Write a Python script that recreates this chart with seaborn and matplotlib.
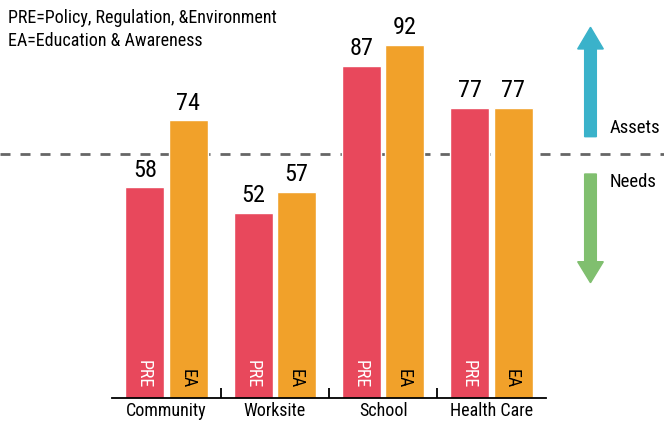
import matplotlib
matplotlib.use("Agg")
import matplotlib.pyplot as plt
import matplotlib.patches as mpatches
import numpy as np
import pandas as pd
import seaborn as sns

# data
settings = ["Community", "Worksite", "School", "Health Care"]
pre_scores = [58, 52, 87, 77]
ea_scores = [74, 57, 92, 77]
bar_types = ["PRE", "EA"]
threshold = 66

red = "#E8485C"
orange = "#F1A12A"
teal = "#3AB2CA"
green = "#80BF6F"

sns.set_theme(style="white")
plt.rcParams["font.family"] = ["Roboto Condensed", "Liberation Sans", "DejaVu Sans"]

df = pd.DataFrame({
    "setting": settings * 2,
    "score": pre_scores + ea_scores,
    "type": [bar_types[0]] * len(settings) + [bar_types[1]] * len(settings),
})

fig = plt.figure(figsize=(6.64, 4.21), dpi=100)
ax = fig.add_axes([0, 23 / 421, 1, 398 / 421])

sns.barplot(data=df, x="setting", y="score", hue="type", order=settings,
            hue_order=bar_types, palette=[red, orange], width=0.8, gap=0.1,
            saturation=1, legend=False, ax=ax)

ylo = 7.9
ax.set_xlim(-1.538, 4.593)
ax.set_ylim(ylo, 102.6)

# value labels on top, rotated type labels inside
for cont, label, col in zip(ax.containers, bar_types, ["white", "black"]):
    ax.bar_label(cont, padding=4, fontsize=17.5, color="black")
    for p in cont:
        ax.text(p.get_x() + p.get_width() / 2 - 0.01, ylo + 2.3, label, rotation=270,
                ha="center", va="bottom", fontsize=13, color=col)

# assets / needs threshold
ax.axhline(threshold, color="#666666", lw=2, ls=(0, (3.6, 3.6)), zorder=0)

for s in ["top", "left", "right"]:
    ax.spines[s].set_visible(False)
ax.spines["bottom"].set_bounds(-0.5, 3.5)
ax.spines["bottom"].set_linewidth(1.3)
ax.spines["bottom"].set_color("black")

ax.set_xticks(range(len(settings)))
ax.set_xticklabels(settings, fontsize=13, color="black")
ax.set_xticks(np.arange(0.5, len(settings) - 1, 1), minor=True)
ax.tick_params(axis="x", which="major", length=0, pad=3)
ax.tick_params(axis="x", which="minor", direction="in", length=7, width=1.3,
               color="black", bottom=True)
ax.set_yticks([])
ax.set_xlabel("")
ax.set_ylabel("")

fig.text(8 / 664, 1 - 18 / 421, "PRE=Policy, Regulation, &Environment",
         fontsize=13, va="center", ha="left", color="black")
fig.text(8 / 664, 1 - 41 / 421, "EA=Education & Awareness",
         fontsize=13, va="center", ha="left", color="black")

# arrows on the right
up = mpatches.FancyArrow(0.8893, 0.6753, 0, 0.2599, width=0.0176,
                         head_width=0.0386, head_length=0.0515,
                         length_includes_head=True, color=teal,
                         transform=fig.transFigure)
down = mpatches.FancyArrow(0.8893, 0.5867, 0, -0.2582, width=0.0176,
                           head_width=0.0386, head_length=0.0499,
                           length_includes_head=True, color=green,
                           transform=fig.transFigure)
fig.patches.extend([up, down])
fig.text(610 / 664, 1 - 128 / 421, "Assets", fontsize=13.5, va="center", ha="left", color="black")
fig.text(610 / 664, 1 - 182 / 421, "Needs", fontsize=13.5, va="center", ha="left", color="black")

fig.savefig("out.png", dpi=100)
